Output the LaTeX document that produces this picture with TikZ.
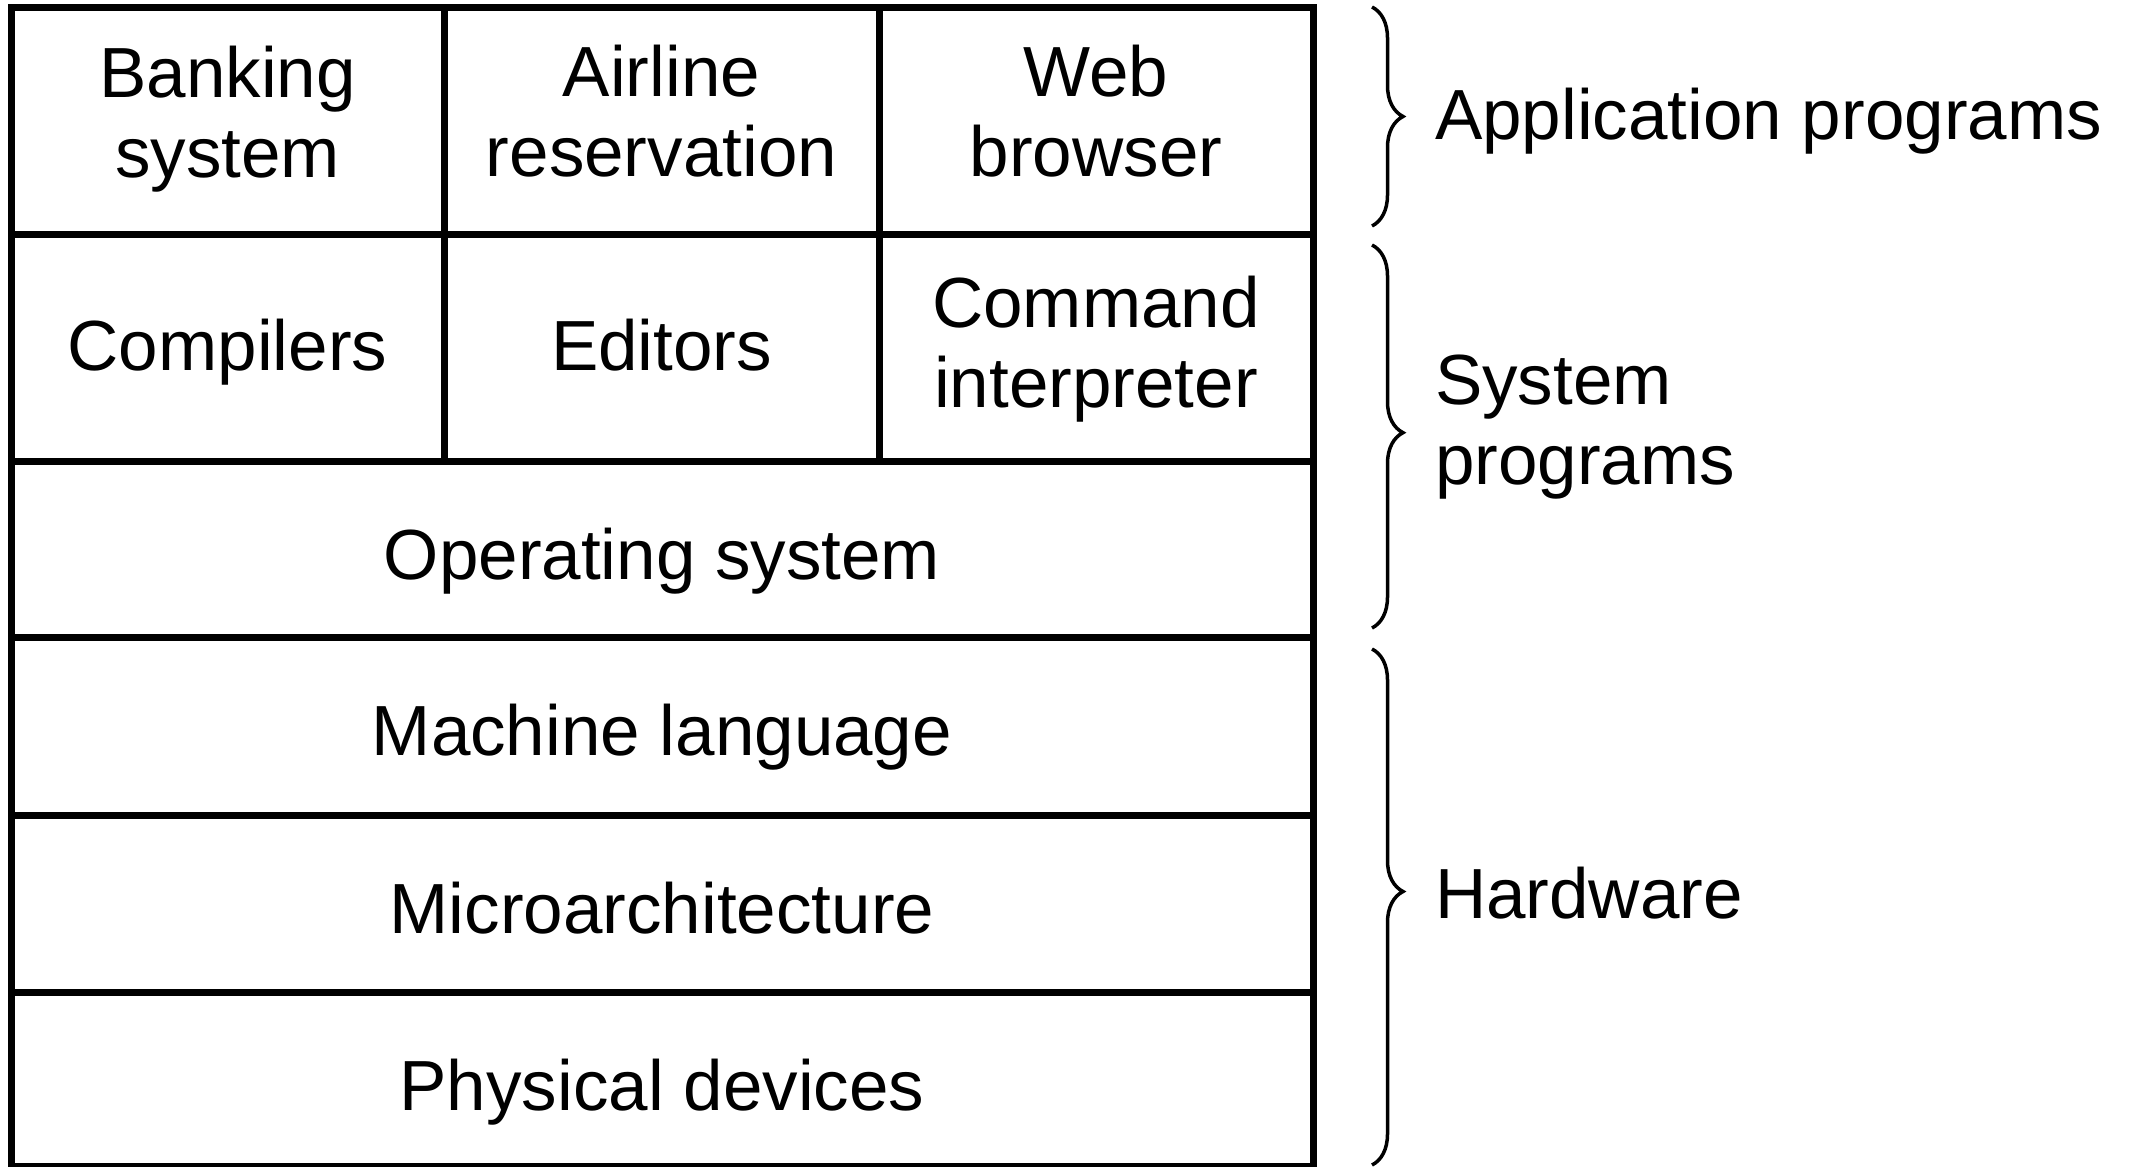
\documentclass[tikz,border=0pt]{standalone}
\usepackage{fontspec}
\setmainfont{Liberation Sans}
\usetikzlibrary{decorations.pathreplacing}
\begin{document}
\begin{tikzpicture}[x=1pt,y=-1pt,
  cell/.style={draw=black, line width=7pt, inner sep=0pt, outer sep=0pt, rectangle},
  lbl/.style={inner sep=0pt, outer sep=0pt, font=\fontsize{71}{80}\selectfont, align=center},
  side/.style={inner sep=0pt, outer sep=0pt, font=\fontsize{71}{80}\selectfont, align=left},
  bracestyle/.style={draw=black, line width=3.5pt, decorate,
    decoration={brace, amplitude=31pt, aspect=#1}}
]
\useasboundingbox (0,0) rectangle (2134,1167);
% cells
\node[cell, minimum width=433pt, minimum height=227pt] (c11) at (227.5,120.5) {};
\node[cell, minimum width=435pt, minimum height=227pt] (c12) at (661.5,120.5) {};
\node[cell, minimum width=434pt, minimum height=227pt] (c13) at (1096,120.5) {};
\node[cell, minimum width=433pt, minimum height=227pt] (c21) at (227.5,347.5) {};
\node[cell, minimum width=435pt, minimum height=227pt] (c22) at (661.5,347.5) {};
\node[cell, minimum width=434pt, minimum height=227pt] (c23) at (1096,347.5) {};
\node[cell, minimum width=1302pt, minimum height=176pt] (os) at (662,549) {};
\node[cell, minimum width=1302pt, minimum height=178pt] (ml) at (662,726) {};
\node[cell, minimum width=1302pt, minimum height=177pt] (ma) at (662,903.5) {};
\node[cell, minimum width=1302pt, minimum height=174pt] (pd) at (662,1079) {};
% cell texts
\node[lbl] (t11) at (227.5,119.5) {Banking\\system};
\node[lbl] (t12) at (661.5,111.5) {Airline\\reservation};
\node[lbl] (t13) at (1096,111.5) {Web\\browser};
\node[lbl, anchor=base] (t21) at (227.5,370) {Compilers};
\node[lbl, anchor=base] (t22) at (661.5,370) {Editors};
\node[lbl] (t23) at (1096,349) {Command\\interpreter};
\node[lbl, anchor=base] (tos) at (662,579) {Operating system};
\node[lbl, anchor=base] (tml) at (662,755) {Machine language};
\node[lbl, anchor=base] (tma) at (662,933) {Microarchitecture};
\node[lbl, anchor=base] (tpd) at (662,1110) {Physical devices};
% braces
\coordinate (a1) at (1372,7);
\coordinate (a2) at (1372,226);
\coordinate (s1) at (1372,245);
\coordinate (s2) at (1372,628);
\coordinate (h1) at (1372,649);
\coordinate (h2) at (1372,1165);
\draw[bracestyle=0.5] (a1) -- (a2);
\draw[bracestyle=0.49] (s1) -- (s2);
\draw[bracestyle=0.47] (h1) -- (h2);
% side labels
\node[side, anchor=base west] (lapp) at (1435,139) {Application programs};
\node[side, anchor=west] (lsys) at (1435,427) {System\\programs};
\node[side, anchor=base west] (lhw) at (1435,918) {Hardware};
\end{tikzpicture}
\end{document}
